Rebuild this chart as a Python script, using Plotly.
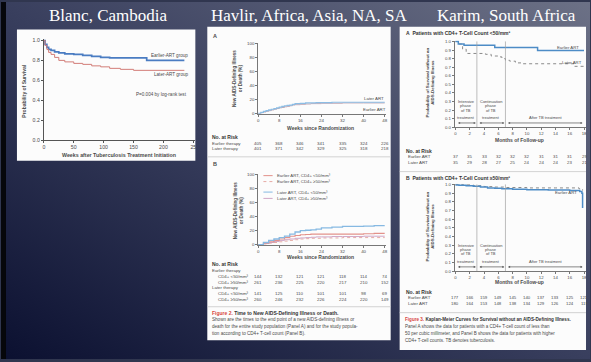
import base64
import plotly.graph_objects as go

W, H = 591, 362
SANS = "Liberation Sans"
SERIF = "Liberation Serif"
INK = "#4a4a4a"

# ---------------- data ----------------
# Blanc (Cambodia): survival after TB treatment initiation
blanc_wk_early = [0, 2, 5, 8, 12, 18, 25, 35, 50, 65, 80, 95, 110, 172, 235]
blanc_sv_early = [1.0, 0.96, 0.93, 0.91, 0.90, 0.885, 0.875, 0.865, 0.86, 0.85, 0.84, 0.83, 0.825, 0.80, 0.80]
blanc_wk_late = [0, 2, 5, 8, 12, 18, 25, 35, 50, 65, 80, 95, 110, 128, 150, 235]
blanc_sv_late = [1.0, 0.95, 0.91, 0.88, 0.86, 0.83, 0.80, 0.785, 0.77, 0.76, 0.745, 0.735, 0.72, 0.71, 0.70, 0.70]

# Havlir: cumulative new AIDS-defining illness or death (%)
hav_weeks = [0, 1, 2, 3, 4, 5, 6, 7, 8, 9, 10, 11, 12, 13, 14, 16, 18, 20, 22, 24, 28, 32, 40, 48]
hav_a_later = [0, 1.5, 3, 4, 5, 6, 7, 8, 9, 10, 11, 11.5, 12, 13, 14, 14.5, 15, 15, 15.5, 15.5, 16, 16, 16, 16]
hav_a_earlier = [0, 1, 2, 3, 4, 5, 6, 7, 8, 8.5, 9.5, 10, 11, 12, 12.5, 13, 13.5, 14, 14, 14.5, 14.5, 15, 15, 15]

hav_b_weeks = [0, 2, 4, 6, 8, 10, 12, 14, 16, 18, 20, 22, 24, 28, 32, 36, 40, 44, 48]
hav_b_early_lt50 = [0, 2, 4, 6, 8, 10, 12, 13, 14, 14.5, 15, 15, 15, 15, 15, 15, 15.5, 16, 16]
hav_b_early_ge50 = [0, 1, 2, 3, 4, 5, 6, 7, 8, 8.5, 9, 9, 9.5, 9.5, 10, 10, 10, 10, 10]
hav_b_later_lt50 = [0, 3, 6, 8, 10, 12, 15, 18, 20, 20.5, 21, 22, 24, 25, 26, 26, 26.5, 27, 27]
hav_b_later_ge50 = [0, 1.5, 3, 4.5, 6, 7, 8, 9, 9.5, 10, 10.5, 11, 11, 11.5, 11.5, 11.5, 12, 12, 12]

hav_ticks = [0, 8, 16, 24, 32, 40, 48]
hav_a_risk_early = [405, 368, 346, 341, 335, 324, 226]
hav_a_risk_later = [401, 371, 342, 329, 325, 318, 218]
hav_b_risk_early_lt50 = [144, 132, 121, 121, 118, 114, 74]
hav_b_risk_early_ge50 = [261, 236, 225, 220, 217, 210, 152]
hav_b_risk_later_lt50 = [141, 125, 110, 101, 101, 98, 69]
hav_b_risk_later_ge50 = [260, 246, 232, 226, 224, 220, 149]

# Karim (South Africa): survival without AIDS-defining illness
kar_a_mo_early = [0, 0.4, 1.2, 5.5, 11.5, 18]
kar_a_sv_early = [1.0, 0.97, 0.955, 0.93, 0.895, 0.895]
kar_a_mo_late = [0, 0.5, 1.0, 1.5, 4.2, 5.0, 6.0, 6.5, 7.0, 7.6, 8.4, 9.2, 16.6, 18]
kar_a_sv_late = [1.0, 0.97, 0.91, 0.86, 0.85, 0.83, 0.82, 0.80, 0.78, 0.77, 0.75, 0.74, 0.71, 0.71]

kar_b_mo_early = [0, 0.5, 1.5, 2.5, 3.5, 4.5, 5.5, 6.5, 8, 10, 13, 16, 17.4, 17.7, 17.8]
kar_b_sv_early = [0.995, 0.99, 0.985, 0.98, 0.97, 0.96, 0.955, 0.95, 0.945, 0.94, 0.935, 0.93, 0.92, 0.90, 0.73]
kar_b_mo_late = [0, 1, 2.5, 4, 5.5, 7, 10, 14, 17.3, 17.8]
kar_b_sv_late = [1.0, 0.995, 0.985, 0.975, 0.97, 0.965, 0.96, 0.96, 0.95, 0.93]

kar_ticks = [0, 2, 4, 6, 8, 10, 12, 14, 16, 18]
kar_a_risk_early = [37, 35, 33, 32, 32, 32, 31, 31, 31, 29]
kar_a_risk_later = [35, 29, 28, 27, 25, 24, 24, 24, 23, 21]
kar_b_risk_early = [177, 166, 159, 149, 145, 140, 137, 133, 125, 121]
kar_b_risk_later = [180, 164, 153, 148, 138, 134, 129, 126, 124, 119]


# ---------------- helpers ----------------
def px(x):
    return x / W


def py(y):
    return 1 - y / H


def dom_x(p0, p1, v0, v1, r0, r1):
    s = (p1 - p0) / (v1 - v0)
    return [(p0 + (r0 - v0) * s) / W, (p0 + (r1 - v0) * s) / W]


def dom_y(p0, p1, v0, v1, r0, r1):
    # p0: pixel row of v0 (lower value), p1: pixel row of v1
    s = (p0 - p1) / (v1 - v0)
    bottom = p0 - (r0 - v0) * s
    top = p0 - (r1 - v0) * s
    return [1 - bottom / H, 1 - top / H]


def axis(dom, rng, tickvals, ticktext, size, anchor, lc="#777", lw=0.8):
    return dict(domain=dom, range=rng, tickvals=tickvals, ticktext=ticktext,
                showline=True, linecolor=lc, linewidth=lw, ticks="outside",
                ticklen=2, tickwidth=0.6, tickcolor=lc, showgrid=False,
                zeroline=False, anchor=anchor, fixedrange=True,
                tickfont=dict(family=SANS, size=size, color=INK))


annotations = []
shapes = []


def note(text, x, y, size=5, color=INK, xanchor="center", yanchor="middle",
         xref="paper", yref="paper", family=SANS, angle=0, align="center"):
    annotations.append(dict(text=text, x=x, y=y, xref=xref, yref=yref,
                            showarrow=False, xanchor=xanchor, yanchor=yanchor,
                            textangle=angle, align=align,
                            font=dict(family=family, size=size, color=color)))


def hline(x0, x1, y, color="#c8c8c8", width=0.8):
    shapes.append(dict(type="line", xref="paper", yref="paper", x0=px(x0), x1=px(x1),
                       y0=py(y), y1=py(y), line=dict(color=color, width=width)))


fig = go.Figure()


def curve(x, y, xa, ya, color, width, dash="solid"):
    fig.add_trace(go.Scatter(x=x, y=y, xaxis=xa, yaxis=ya, mode="lines",
                             line=dict(color=color, width=width, dash=dash, shape="hv"),
                             hoverinfo="skip"))


# ---------------- panel backgrounds ----------------
for (x0, y0, x1, y1) in [(16, 28, 195, 161), (207, 25, 391, 343), (400, 25, 587, 353)]:
    shapes.append(dict(type="rect", xref="paper", yref="paper", layer="below",
                       x0=px(x0), x1=px(x1), y0=py(y1), y1=py(y0),
                       fillcolor="#fcfcfc", line=dict(width=0)))
shapes.append(dict(type="rect", xref="paper", yref="paper", layer="below",
                   x0=0, x1=px(5), y0=0, y1=1, fillcolor="#06070b", line=dict(width=0)))

# ---------------- slide titles ----------------
for t, cx in [("Blanc, Cambodia", 107), ("Havlir, Africa, Asia, NA, SA", 309),
              ("Karim, South Africa", 507)]:
    note(t, px(cx), py(14), size=17, color="#ffffff", family=SERIF)

# ---------------- Blanc panel ----------------
bx = dom_x(43, 193, 0, 250, 0, 253)
by = dom_y(140, 39, 0, 1.0, 0, 1.01)
curve(blanc_wk_early, blanc_sv_early, "x", "y", "#4a7cc2", 1.7)
curve(blanc_wk_late, blanc_sv_late, "x", "y", "#d27d78", 1.0)
note("Earlier-ART group", 210, 0.845, size=4.6, xref="x", yref="y")
note("Later-ART group", 212, 0.655, size=4.6, xref="x", yref="y")
note("P=0.004 by log-rank test", 197, 0.455, size=4.6, xref="x", yref="y")
note("<b>Probability of Survival</b>", px(23), py(90), size=5, angle=-90)
note("<b>Weeks after Tuberculosis Treatment Initiation</b>", px(118), py(155), size=5.3)

# ---------------- Havlir panel A ----------------
hx = dom_x(258, 385, 0, 48, 0, 48.6)
hay = dom_y(113, 42, 0, 100, -0.6, 101)
curve(hav_weeks, hav_a_earlier, "x2", "y2", "#c3a9b4", 1.0)
curve(hav_weeks, hav_a_later, "x2", "y2", "#8cbde4", 1.2)
note("<b>A</b>", px(211), py(34), size=5.5, xanchor="left")
note("Later ART", 44, 21, size=4.4, xref="x2", yref="y2")
note("Earlier ART", 44, 5, size=4.4, xref="x2", yref="y2")
note("<b>New AIDS-Defining Illness<br>or Death (%)</b>", px(238), py(78), size=4.6, angle=-90)
note("<b>Weeks since Randomization</b>", px(321), py(128), size=5)
note("<b>No. at Risk</b>", px(210), py(137), size=5, xanchor="left", color="#333")
note("Earlier therapy", px(210), py(143), size=4.4, xanchor="left")
note("Later therapy", px(210), py(149), size=4.4, xanchor="left")
for vals, yy in [(hav_a_risk_early, 143), (hav_a_risk_later, 149)]:
    for v, t in zip(vals, hav_ticks):
        note(str(v), t, py(yy), size=4.4, xref="x2")
hline(207, 391, 157)

# ---------------- Havlir panel B ----------------
hby = dom_y(246, 175, 0, 100, -0.6, 101)
curve(hav_b_weeks, hav_b_early_ge50, "x3", "y3", "#e6aaa4", 1.0, "dot")
curve(hav_b_weeks, hav_b_later_ge50, "x3", "y3", "#cfa6c6", 1.0)
curve(hav_b_weeks, hav_b_early_lt50, "x3", "y3", "#e2918a", 1.1)
curve(hav_b_weeks, hav_b_later_lt50, "x3", "y3", "#86b9e2", 1.3)
note("<b>B</b>", px(211), py(164), size=5.5, xanchor="left")
legend_rows = [("Earlier ART, CD4+ &lt;50/mm³", 98.5, "#e2918a", "solid"),
               ("Earlier ART, CD4+ ≥50/mm³", 90, "#e6aaa4", "dot"),
               ("Later ART, CD4+ &lt;50/mm³", 75, "#86b9e2", "solid"),
               ("Later ART, CD4+ ≥50/mm³", 66, "#cfa6c6", "solid")]
for label, ly, col, dsh in legend_rows:
    shapes.append(dict(type="line", xref="x3", yref="y3", x0=2, x1=5.5, y0=ly, y1=ly,
                       line=dict(color=col, width=1, dash=dsh)))
    note(label, 6.5, ly, size=4.3, xref="x3", yref="y3", xanchor="left")
note("<b>New AIDS-Defining Illness<br>or Death (%)</b>", px(238), py(212), size=4.6, angle=-90)
note("<b>Weeks since Randomization</b>", px(321), py(259), size=5)
note("<b>No. at Risk</b>", px(210), py(266), size=5, xanchor="left", color="#333")
note("Earlier therapy", px(210), py(272), size=4.4, xanchor="left")
note("Later therapy", px(210), py(290), size=4.4, xanchor="left")
for lab, vals, yy in [("CD4+ &lt;50/mm³", hav_b_risk_early_lt50, 278),
                      ("CD4+ ≥50/mm³", hav_b_risk_early_ge50, 284),
                      ("CD4+ &lt;50/mm³", hav_b_risk_later_lt50, 296),
                      ("CD4+ ≥50/mm³", hav_b_risk_later_ge50, 302)]:
    note(lab, px(216), py(yy), size=4.4, xanchor="left")
    for v, t in zip(vals, hav_ticks):
        note(str(v), t, py(yy), size=4.4, xref="x3")
hline(207, 391, 309)
note("<b><span style='color:#d8463c'>Figure 2.</span> Time to New AIDS-Defining Illness or Death.</b>",
     px(210), py(315), size=5, xanchor="left", color="#333")
for i, line in enumerate(["Shown are the times to the end point of a new AIDS-defining illness or",
                          "death for the entire study population (Panel A) and for the study popula-",
                          "tion according to CD4+ T-cell count (Panel B)."]):
    note(line, px(210), py(322 + 7 * i), size=4.6, xanchor="left")

# ---------------- Karim panels ----------------
kx = dom_x(456, 585, 0, 18, -0.1, 18.3)
kay = dom_y(127, 40, 0, 1.0, 0, 1.01)
kby = dom_y(273, 185, 0, 1.0, 0, 1.01)

curve(kar_a_mo_late, kar_a_sv_late, "x4", "y4", "#8a8a8a", 1.0, "dot")
curve(kar_a_mo_early, kar_a_sv_early, "x4", "y4", "#4d8cc6", 1.5)
curve(kar_b_mo_late, kar_b_sv_late, "x5", "y5", "#8a8a8a", 1.0, "dot")
curve(kar_b_mo_early, kar_b_sv_early, "x5", "y5", "#4d8cc6", 1.5)

note("<b>A</b>  <b>Patients with CD4+ T-Cell Count &lt;50/mm³</b>", px(404), py(31),
     size=5, xanchor="left", color="#333")
note("<b>B</b>  <b>Patients with CD4+ T-Cell Count ≥50/mm³</b>", px(404), py(178),
     size=5, xanchor="left", color="#333")
note("Earlier ART", 15.8, 0.925, size=4.3, xref="x4", yref="y4")
note("Later ART", 16.3, 0.755, size=4.3, xref="x4", yref="y4")
note("Later ART", 15.5, 1.03, size=4.3, xref="x5", yref="y5")
note("Earlier ART", 15.5, 0.905, size=4.3, xref="x5", yref="y5")

for xa, ya, ycen, rows in [("x4", "y4", 82, (140, 151, 157, 163)),
                           ("x5", "y5", 228, (284, 294, 300, 306))]:
    for m in (3, 7):
        shapes.append(dict(type="line", xref=xa, yref=ya, x0=m, x1=m, y0=0, y1=1.0,
                           line=dict(color="#a0a0a0", width=0.7)))
    for cx, words in [(1.5, ["Intensive", "phase", "of TB", "treatment"]),
                      (5.0, ["Continuation", "phase", "of TB", "treatment"])]:
        for w, wy in zip(words, [0.30, 0.25, 0.20, 0.11]):
            note(w, cx, wy, size=4.0, xref=xa, yref=ya)
    note("After TB treatment", 12.6, 0.11, size=4.0, xref=xa, yref=ya)
    for a0, a1 in [(0.15, 2.85), (3.15, 6.85), (7.15, 17.8)]:
        annotations.append(dict(x=a1, y=0.05, ax=a0, ay=0.05, xref=xa, yref=ya,
                                axref=xa, ayref=ya, text="", showarrow=True,
                                arrowhead=2, arrowside="end+start", arrowsize=0.6,
                                arrowwidth=0.7, arrowcolor="#555"))
    note("<b>Probability of Survival without an<br>AIDS-Defining Illness</b>",
         px(431), py(ycen), size=4.4, angle=-90)
    note("<b>Months of Follow-up</b>", px(520), py(rows[0]), size=5)
    note("<b>No. at Risk</b>", px(404), py(rows[1]), size=5, xanchor="left", color="#333")
    note("Earlier ART", px(406), py(rows[2]), size=4.4, xanchor="left")
    note("Later ART", px(406), py(rows[3]), size=4.4, xanchor="left")

for xa, vals, yy in [("x4", kar_a_risk_early, 157), ("x4", kar_a_risk_later, 163),
                     ("x5", kar_b_risk_early, 300), ("x5", kar_b_risk_later, 306)]:
    for v, t in zip(vals, kar_ticks):
        note(str(v), t, py(yy), size=4.3, xref=xa)

hline(400, 587, 172)
hline(400, 587, 315)
note("<b><span style='color:#d8463c'>Figure 3.</span> Kaplan-Meier Curves for Survival without an AIDS-Defining Illness.</b>",
     px(403), py(322), size=4.6, xanchor="left", color="#333")
for i, line in enumerate(["Panel A shows the data for patients with a CD4+ T-cell count of less than",
                          "50 per cubic millimeter, and Panel B shows the data for patients with higher",
                          "CD4+ T-cell counts. TB denotes tuberculosis."]):
    note(line, px(403), py(329 + 7 * i), size=4.5, xanchor="left")

# ---------------- slide background ----------------
svg = (f'<svg xmlns="http://www.w3.org/2000/svg" width="{W}" height="{H}">'
       '<defs><linearGradient id="g" x1="0" y1="1" x2="1" y2="0">'
       '<stop offset="0" stop-color="#0b1030"/>'
       '<stop offset="0.5" stop-color="#393f5e"/>'
       '<stop offset="1" stop-color="#6c7186"/>'
       '</linearGradient></defs>'
       f'<rect width="{W}" height="{H}" fill="url(#g)"/></svg>')
bg_src = "data:image/svg+xml;base64," + base64.b64encode(svg.encode()).decode()

kar_y_ticks = [i / 10 for i in range(11)]
kar_y_text = [f"{v:.1f}" for v in kar_y_ticks]

fig.update_layout(
    width=W, height=H, margin=dict(l=0, r=0, t=0, b=0),
    paper_bgcolor="#30364f", plot_bgcolor="rgba(0,0,0,0)", showlegend=False,
    images=[dict(source=bg_src, xref="paper", yref="paper", x=0, y=1, sizex=1, sizey=1,
                 xanchor="left", yanchor="top", sizing="stretch", layer="below")],
    xaxis=axis(bx, [0, 253], [0, 50, 100, 150, 200, 250], ["0", "50", "100", "150", "200", "25"],
               5.2, "y", lc="#555", lw=1),
    yaxis=axis(by, [0, 1.01], [0, 0.2, 0.4, 0.6, 0.8, 1.0], ["0.0", "0.2", "0.4", "0.6", "0.8", "1.0"],
               5.2, "x", lc="#555", lw=1),
    xaxis2=axis(hx, [0, 48.6], hav_ticks, [str(t) for t in hav_ticks], 4.4, "y2"),
    yaxis2=axis(hay, [-0.6, 101], [0, 20, 40, 60, 80, 100], ["0", "20", "40", "60", "80", "100"], 4.4, "x2"),
    xaxis3=axis(hx, [0, 48.6], hav_ticks, [str(t) for t in hav_ticks], 4.4, "y3"),
    yaxis3=axis(hby, [-0.6, 101], [0, 20, 40, 60, 80, 100], ["0", "20", "40", "60", "80", "100"], 4.4, "x3"),
    xaxis4=axis(kx, [-0.1, 18.3], kar_ticks, [str(t) for t in kar_ticks], 4.3, "y4"),
    yaxis4=axis(kay, [0, 1.01], kar_y_ticks, kar_y_text, 4.3, "x4"),
    xaxis5=axis(kx, [-0.1, 18.3], kar_ticks, [str(t) for t in kar_ticks], 4.3, "y5"),
    yaxis5=axis(kby, [0, 1.01], kar_y_ticks, kar_y_text, 4.3, "x5"),
    annotations=annotations,
    shapes=shapes,
)

fig.write_html("out.html")
